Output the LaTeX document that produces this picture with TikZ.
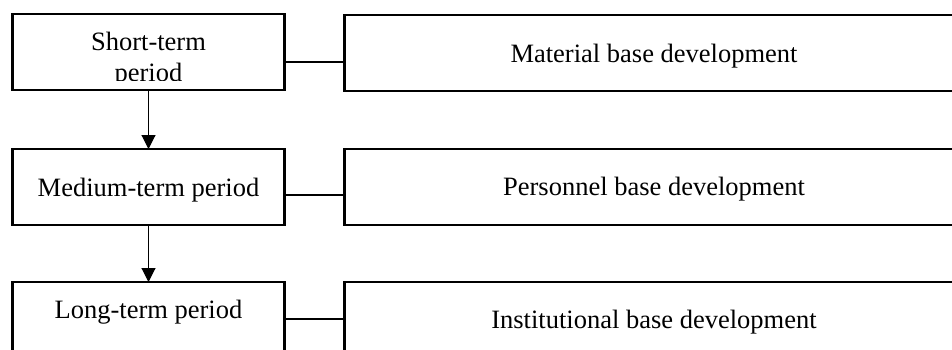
\documentclass[tikz,border=0pt]{standalone}
\usepackage{fontspec}
\setmainfont{Liberation Serif}
\usetikzlibrary{arrows.meta}
\begin{document}
\begin{tikzpicture}[x=1pt,y=-1pt,
  box/.style={draw=black, line width=2.3pt, rectangle, inner sep=0pt, outer sep=0pt},
  lbox/.style={box, minimum width=272pt, minimum height=76pt},
  rbox/.style={box, minimum width=655pt, minimum height=76pt},
  lbl/.style={anchor=base, inner sep=0pt, font=\fontsize{26.5}{31}\selectfont},
  link/.style={draw=black, line width=1.1pt},
  flow/.style={draw=black, line width=1.1pt, -{Triangle[width=14pt,length=14pt]}}]
\useasboundingbox (0,0) rectangle (952,349);
\clip (0,0) rectangle (952,349);
\fill[white] (0,0) rectangle (952,349);
% left boxes
\node[lbox] (L1) at (148.5,52) {};
\node[lbox] (L2) at (148.5,187) {};
\node[lbox] (L3) at (148.5,320) {};
% right boxes
\node[rbox] (R1) at (672,53) {};
\node[rbox] (R2) at (672,187) {};
\node[rbox] (R3) at (672,320) {};
% texts
\begin{scope}
\clip (12,14) rectangle (285,80.5);
\node[lbl] (t1a) at (148.5,50) {Short-term};
\node[lbl] (t1b) at (148.5,81) {period};
\end{scope}
\node[lbl] (t2) at (148.5,196) {Medium-term period};
\node[lbl] (t3) at (148.5,318) {Long-term period};
\node[lbl] (u1) at (654,62) {Material base development};
\node[lbl] (u2) at (654,195.5) {Personnel base development};
\node[lbl] (u3) at (654,328) {Institutional base development};
% connectors
\coordinate (c1) at (0,62);
\coordinate (c2) at (0,195);
\coordinate (c3) at (0,319);
\draw[link] (L1.east |- c1) -- (R1.west |- c1);
\draw[link] (L2.east |- c2) -- (R2.west |- c2);
\draw[link] (L3.east |- c3) -- (R3.west |- c3);
\draw[flow] (L1.south) -- (L2.north);
\draw[flow] (L2.south) -- (L3.north);
\end{tikzpicture}
\end{document}
